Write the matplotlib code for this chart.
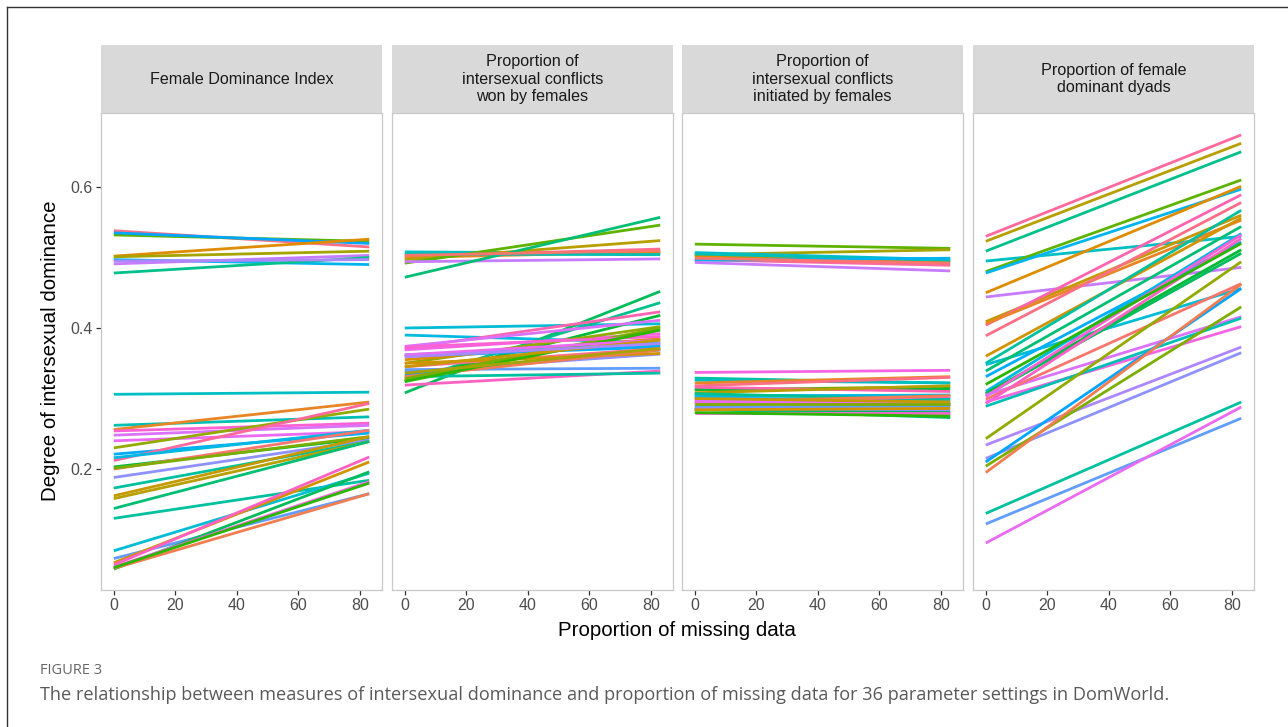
import numpy as np
import matplotlib
matplotlib.use('Agg')
import matplotlib.pyplot as plt
from matplotlib.lines import Line2D

plt.rcParams['font.family'] = ['Liberation Sans', 'DejaVu Sans']

# x values: proportion of missing data (start and end of each fitted line)
x_range = [0, 83]

panel_titles = ['Female Dominance Index',
                'Proportion of\nintersexual conflicts\nwon by females',
                'Proportion of\nintersexual conflicts\ninitiated by females',
                'Proportion of female\ndominant dyads']

# one entry per line: value at 0 % missing, value at 83 % missing, hue index (0-35)
fdi_start = [0.538, 0.532, 0.535, 0.502, 0.501, 0.497, 0.491, 0.478, 0.495,
             0.306, 0.262, 0.256, 0.254, 0.248, 0.240, 0.230, 0.221, 0.212,
             0.216, 0.203, 0.200, 0.201, 0.188, 0.173, 0.162, 0.158, 0.144,
             0.130, 0.084, 0.073, 0.067, 0.064, 0.058, 0.059, 0.061, 0.060]
fdi_end = [0.515, 0.523, 0.520, 0.526, 0.509, 0.490, 0.503, 0.500, 0.497,
           0.309, 0.274, 0.295, 0.265, 0.262, 0.253, 0.285, 0.251, 0.293,
           0.255, 0.244, 0.255, 0.246, 0.241, 0.239, 0.246, 0.239, 0.239,
           0.184, 0.194, 0.165, 0.210, 0.217, 0.196, 0.165, 0.182, 0.180]
fdi_hue = [35, 10, 23, 3, 7, 21, 27, 15, 26,
           18, 17, 2, 31, 28, 29, 8, 22, 34,
           20, 12, 0, 9, 25, 16, 5, 6, 14,
           16, 19, 24, 4, 32, 13, 1, 30, 11]

won_start = [0.508, 0.502, 0.500, 0.497, 0.492, 0.494, 0.472, 0.505, 0.503,
             0.400, 0.390, 0.308, 0.324, 0.326, 0.371, 0.374, 0.369, 0.350,
             0.355, 0.362, 0.360, 0.345, 0.338, 0.341, 0.319, 0.331, 0.333,
             0.350, 0.331, 0.328, 0.373, 0.324, 0.362, 0.345, 0.359, 0.336]
won_end = [0.506, 0.512, 0.508, 0.524, 0.546, 0.498, 0.557, 0.504, 0.510,
           0.406, 0.379, 0.452, 0.436, 0.418, 0.423, 0.411, 0.392, 0.402,
           0.385, 0.376, 0.373, 0.371, 0.363, 0.343, 0.339, 0.336, 0.369,
           0.364, 0.369, 0.400, 0.388, 0.397, 0.383, 0.383, 0.378, 0.371]
won_hue = [18, 34, 2, 6, 10, 27, 14, 17, 0,
           19, 20, 13, 15, 12, 33, 28, 30, 8,
           3, 21, 22, 35, 25, 24, 32, 16, 23,
           4, 1, 9, 31, 11, 29, 5, 26, 7]

init_start = [0.519, 0.504, 0.507, 0.502, 0.505, 0.497, 0.496, 0.493, 0.499,
              0.337, 0.329, 0.326, 0.322, 0.318, 0.312, 0.313, 0.316, 0.308,
              0.305, 0.303, 0.300, 0.307, 0.293, 0.295, 0.291, 0.298, 0.295,
              0.288, 0.284, 0.285, 0.279, 0.286, 0.300, 0.280, 0.284, 0.292]
init_end = [0.513, 0.511, 0.497, 0.494, 0.496, 0.489, 0.499, 0.481, 0.492,
            0.340, 0.322, 0.322, 0.331, 0.330, 0.317, 0.314, 0.310, 0.318,
            0.303, 0.305, 0.299, 0.298, 0.303, 0.304, 0.295, 0.292, 0.291,
            0.289, 0.281, 0.273, 0.279, 0.284, 0.295, 0.275, 0.286, 0.292]
init_hue = [10, 7, 19, 3, 17, 34, 21, 27, 0,
            30, 16, 18, 2, 35, 8, 12, 33, 6,
            22, 20, 23, 15, 32, 1, 26, 28, 29,
            24, 13, 14, 31, 25, 5, 11, 4, 9]

dyad_start = [0.530, 0.523, 0.509, 0.495, 0.480, 0.478, 0.450, 0.444, 0.409,
              0.404, 0.406, 0.389, 0.360, 0.350, 0.348, 0.339, 0.331, 0.310,
              0.307, 0.305, 0.303, 0.305, 0.299, 0.293, 0.295, 0.289, 0.243,
              0.234, 0.215, 0.210, 0.204, 0.195, 0.137, 0.122, 0.095, 0.320]
dyad_end = [0.674, 0.662, 0.650, 0.530, 0.610, 0.597, 0.601, 0.486, 0.560,
            0.589, 0.553, 0.578, 0.556, 0.567, 0.456, 0.544, 0.522, 0.534,
            0.511, 0.506, 0.532, 0.416, 0.463, 0.527, 0.402, 0.414, 0.494,
            0.373, 0.365, 0.456, 0.430, 0.462, 0.295, 0.272, 0.288, 0.520]
dyad_hue = [34, 6, 15, 18, 10, 21, 3, 27, 5,
            33, 2, 35, 4, 16, 19, 14, 22, 20,
            12, 13, 31, 28, 0, 32, 30, 17, 8,
            26, 25, 23, 9, 1, 16, 24, 29, 11]

panels = [(fdi_start, fdi_end, fdi_hue),
          (won_start, won_end, won_hue),
          (init_start, init_end, init_hue),
          (dyad_start, dyad_end, dyad_hue)]


def hue_pal(n, l=65, c=100):
    # ggplot2 default discrete palette (polar Luv -> sRGB)
    hues = np.linspace(15, 375, n + 1)[:n]
    xn, yn, zn = 95.047, 100.0, 108.883
    un = 4 * xn / (xn + 15 * yn + 3 * zn)
    vn = 9 * yn / (xn + 15 * yn + 3 * zn)
    M = np.array([[3.2404542, -1.5371385, -0.4985314],
                  [-0.9692660, 1.8760108, 0.0415560],
                  [0.0556434, -0.2040259, 1.0572252]])
    out = []
    for h in hues:
        u = c * np.cos(np.radians(h))
        v = c * np.sin(np.radians(h))
        Y = yn * ((l + 16) / 116) ** 3
        up = u / (13 * l) + un
        vp = v / (13 * l) + vn
        X = Y * 9 * up / (4 * vp)
        Z = Y * (12 - 3 * up - 20 * vp) / (4 * vp)
        rgb = M @ (np.array([X, Y, Z]) / 100)
        rgb = np.where(rgb <= 0.0031308, 12.92 * rgb,
                       1.055 * np.power(np.clip(rgb, 0, None), 1 / 2.4) - 0.055)
        out.append(np.clip(rgb, 0, 1))
    return out


colors = hue_pal(36)

W, H = 1288, 727
fig = plt.figure(figsize=(W / 100, H / 100), dpi=100)

# outer frame (top and left edges visible)
fig.add_artist(Line2D([7 / W, 1], [1 - 7 / H, 1 - 7 / H], color='#333333', lw=1.0))
fig.add_artist(Line2D([7 / W, 7 / W], [0, 1 - 7 / H], color='#333333', lw=1.0))

lefts = [101, 392, 682, 973]
pw = 281
top, bottom = 113, 590
strip_top = 45

for k, (s, e, hue) in enumerate(panels):
    ax = fig.add_axes([lefts[k] / W, 1 - bottom / H, pw / W, (bottom - top) / H])
    for a, b, hi in zip(s, e, hue):
        ax.plot(x_range, [a, b], color=colors[hi], lw=2.0, solid_capstyle='butt')
    ax.set_xlim(-4.15, 87.15)
    ax.set_ylim(0.0284, 0.705)
    ax.set_xticks([0, 20, 40, 60, 80])
    ax.set_yticks([0.2, 0.4, 0.6])
    ax.tick_params(axis='both', length=3.5, width=0.9, color='#333333',
                   labelsize=11.5, labelcolor='#4D4D4D', pad=2.5)
    if k > 0:
        ax.tick_params(axis='y', left=False, labelleft=False)
    for sp in ax.spines.values():
        sp.set_color('#C8C8C8')
        sp.set_linewidth(0.9)

    sax = fig.add_axes([lefts[k] / W, 1 - top / H, pw / W, (top - strip_top) / H])
    sax.set_facecolor('#D9D9D9')
    sax.set_xticks([])
    sax.set_yticks([])
    for sp in sax.spines.values():
        sp.set_visible(False)
    sax.text(0.5, 0.5, panel_titles[k], ha='center', va='center',
             fontsize=11.6, color='#1A1A1A', linespacing=1.2,
             transform=sax.transAxes)

fig.text(677 / W, 1 - 630 / H, 'Proportion of missing data', ha='center', va='center',
         fontsize=14.8, color='black')
fig.text(51 / W, 1 - 351 / H, 'Degree of intersexual dominance', ha='center', va='center',
         rotation=90, fontsize=14.8, color='black')

fig.text(40 / W, 1 - 671 / H, 'FIGURE 3', ha='left', va='center',
         fontsize=10.5, color='#666666', family='Open Sans')
fig.text(40 / W, 1 - 695 / H,
         'The relationship between measures of intersexual dominance and proportion of '
         'missing data for 36 parameter settings in DomWorld.',
         ha='left', va='center', fontsize=13.1, color='#595959', family='Open Sans')

fig.savefig('out.png', dpi=100)
